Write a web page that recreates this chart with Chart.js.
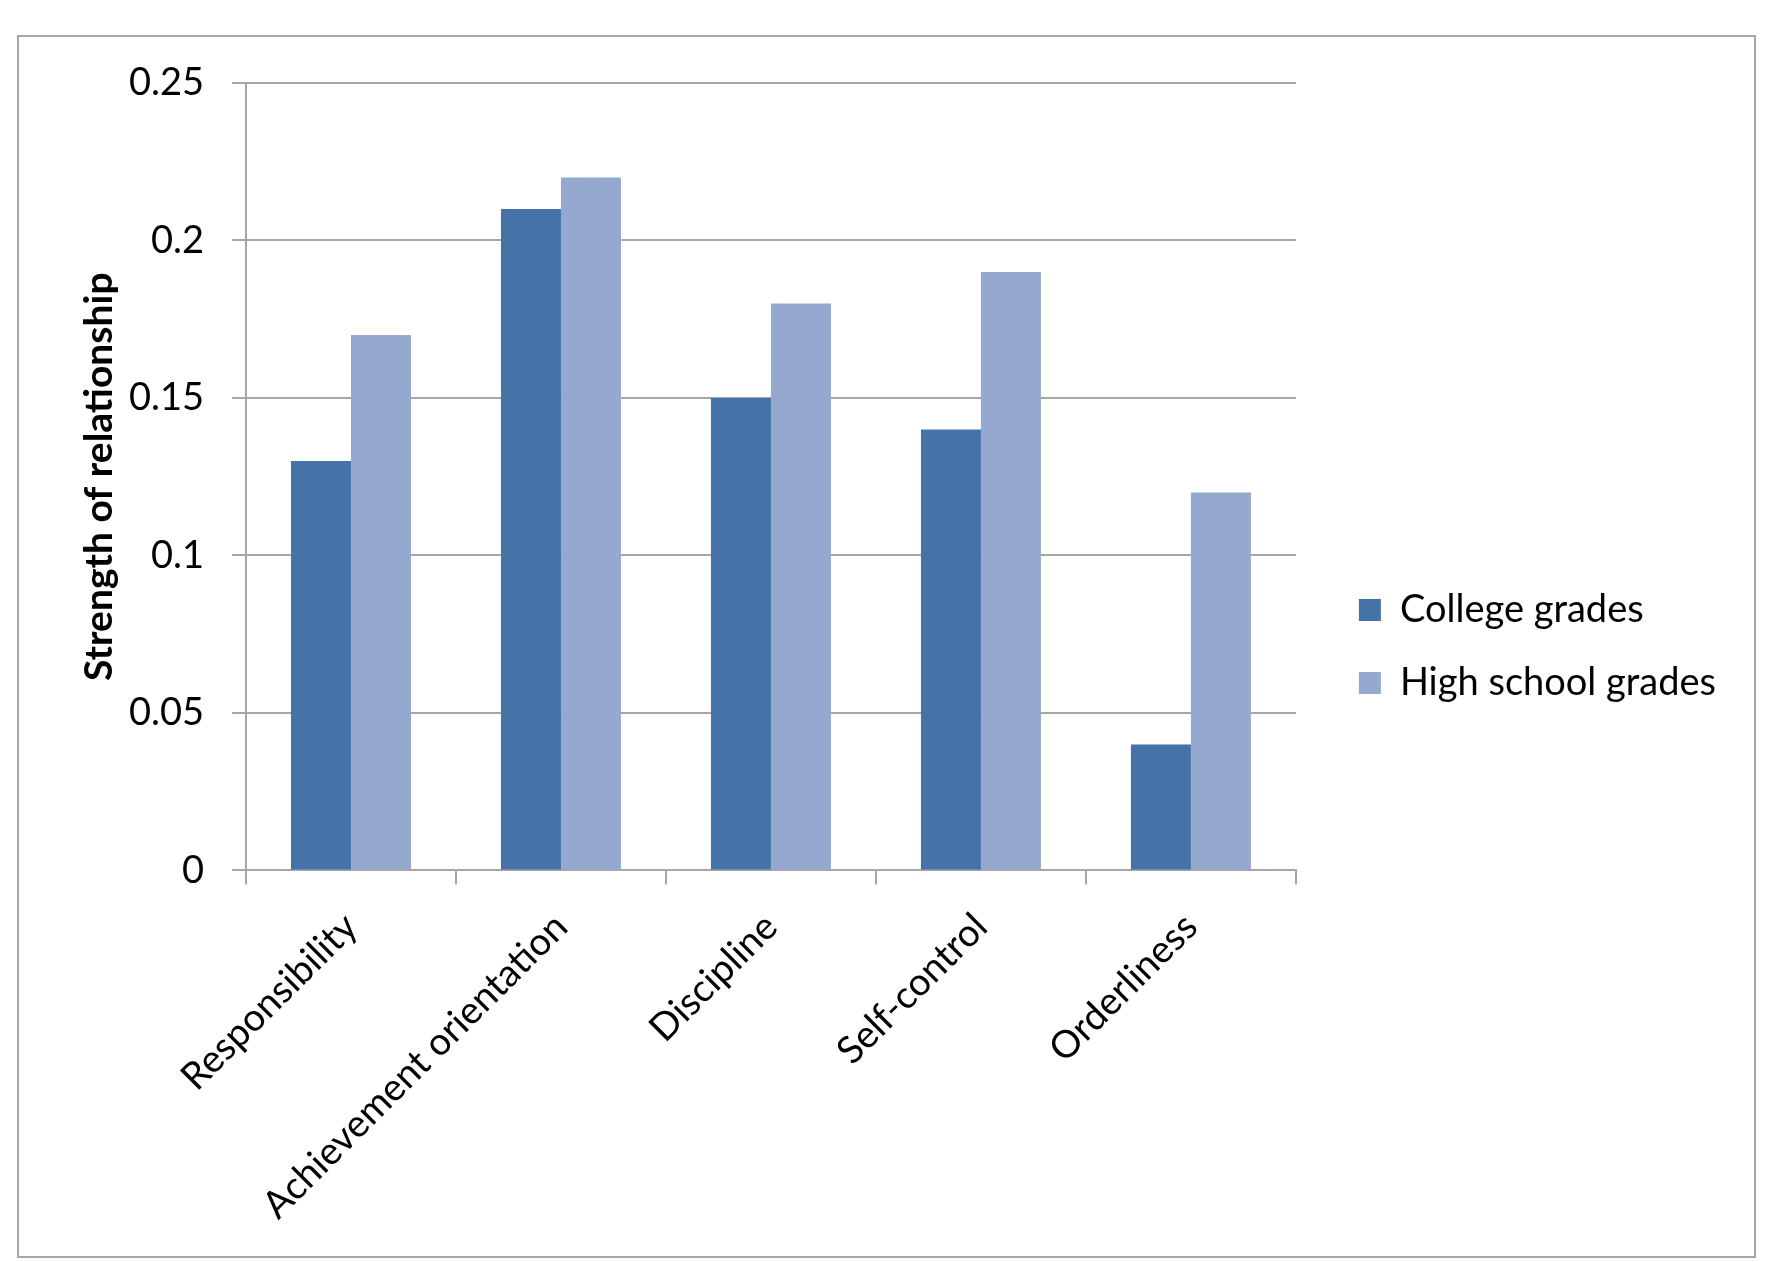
<!DOCTYPE html>
<html>
<head>
<meta charset="utf-8">
<script src="https://cdn.jsdelivr.net/npm/chart.js@4.4.0/dist/chart.umd.min.js"></script>
<style>
  html, body { margin: 0; padding: 0; background: #fff; }
  #wrap { width: 1778px; height: 1262px; }
</style>
</head>
<body>
<div id="wrap"><canvas id="chart" width="1778" height="1262"></canvas></div>
<script>
// --- data ---
const categories = ['Responsibility', 'Achievement orientation', 'Discipline', 'Self-control', 'Orderliness'];
const collegeGrades = [0.13, 0.21, 0.15, 0.14, 0.04];
const highSchoolGrades = [0.17, 0.22, 0.18, 0.19, 0.12];
const yTickLabels = ['0', '0.05', '0.1', '0.15', '0.2', '0.25'];
const seriesNames = ['College grades', 'High school grades'];

const FONT = 'Lato, "Open Sans", sans-serif';
const GRID = '#a6a6a6';

// outer frame around the whole chart + nudge legend away from plot
const framePlugin = {
  id: 'frame',
  afterLayout(chart) {
    const lg = chart.legend;
    if (lg) {
      lg.left += 28; lg.right += 28;
      lg.top -= 19; lg.bottom -= 19;
    }
  },
  beforeDraw(chart) {
    const ctx = chart.ctx;
    ctx.save();
    ctx.fillStyle = '#fff';
    ctx.fillRect(0, 0, chart.width, chart.height);
    ctx.strokeStyle = GRID;
    ctx.lineWidth = 2;
    ctx.strokeRect(18, 36, 1737, 1221);
    ctx.restore();
  }
};

new Chart(document.getElementById('chart'), {
  type: 'bar',
  data: {
    labels: categories,
    datasets: [
      { label: seriesNames[0], data: collegeGrades, backgroundColor: '#4572a7' },
      { label: seriesNames[1], data: highSchoolGrades, backgroundColor: '#95a9d0' }
    ]
  },
  options: {
    responsive: false,
    animation: false,
    layout: { padding: { left: 20, top: 83, right: 80, bottom: 14 } },
    datasets: { bar: { categoryPercentage: 2 / 3.5, barPercentage: 1 } },
    plugins: {
      legend: {
        position: 'right',
        labels: {
          font: { family: FONT, size: 38 },
          color: '#000',
          boxWidth: 22,
          boxHeight: 22,
          padding: 35
        }
      },
      tooltip: { enabled: false }
    },
    scales: {
      x: {
        grid: { offset: true, drawOnChartArea: false, color: GRID, lineWidth: 2, tickLength: 14 },
        border: { color: GRID, width: 2 },
        ticks: {
          font: { family: FONT, size: 38 },
          color: '#000',
          maxRotation: 45,
          minRotation: 45,
          padding: 20
        }
      },
      y: {
        min: 0,
        max: 0.25,
        afterFit: s => { s.width = 226; },
        grid: { color: GRID, lineWidth: 2, tickLength: 14 },
        border: { color: GRID, width: 2 },
        ticks: {
          stepSize: 0.05,
          font: { family: FONT, size: 38 },
          color: '#000',
          padding: 28,
          callback: (v, i) => yTickLabels[i]
        },
        title: {
          display: true,
          text: 'Strength of relationship',
          font: { family: FONT, size: 39, weight: 'bold' },
          color: '#000',
          padding: { top: 56, bottom: 10 }
        }
      }
    }
  },
  plugins: [framePlugin]
});
</script>
</body>
</html>
